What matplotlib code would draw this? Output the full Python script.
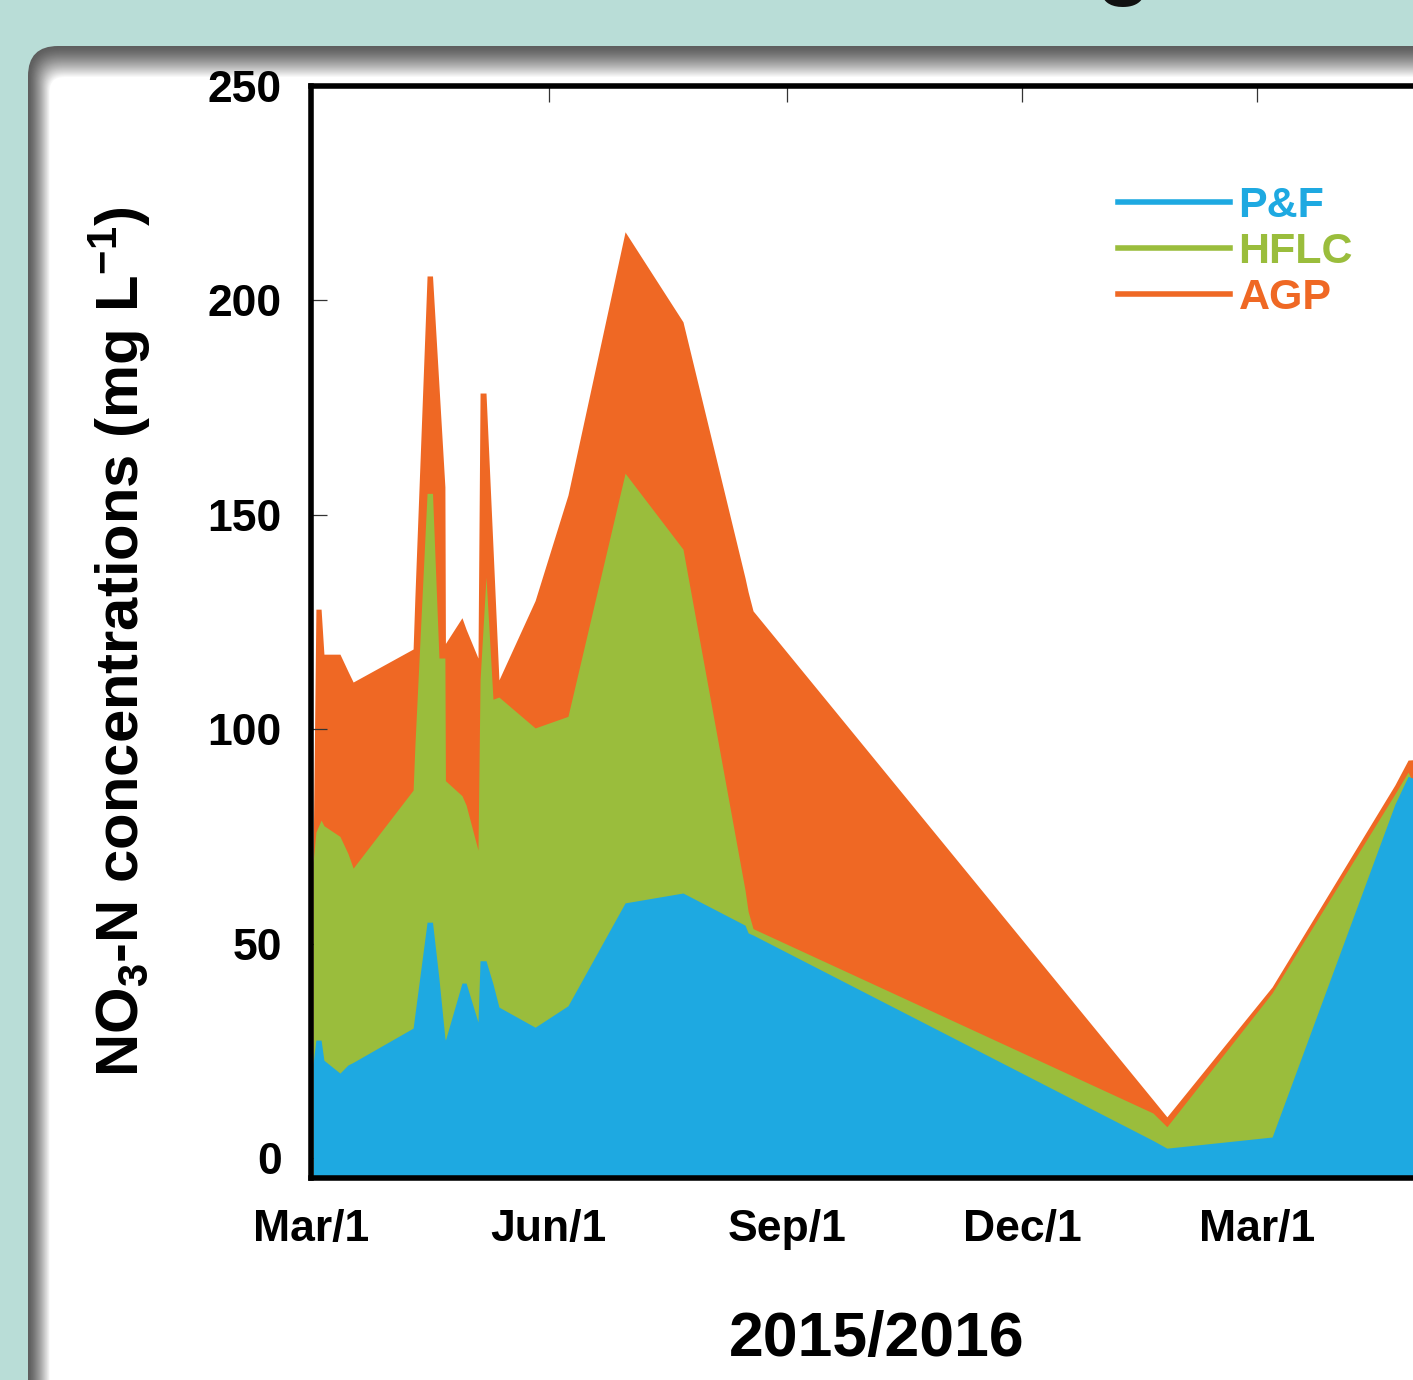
import numpy as np
import matplotlib.pyplot as plt
from matplotlib.patches import FancyBboxPatch
from matplotlib.lines import Line2D

plt.rcParams['font.family'] = 'Liberation Sans'
plt.rcParams['font.weight'] = 'bold'
plt.rcParams['mathtext.fontset'] = 'custom'
plt.rcParams['mathtext.rm'] = 'Liberation Sans:bold'
plt.rcParams['mathtext.it'] = 'Liberation Sans:bold'
plt.rcParams['mathtext.bf'] = 'Liberation Sans:bold'
plt.rcParams['mathtext.default'] = 'rm'

# days since 1 Mar 2015
days = [0.8, 1.9, 3.9, 5.0, 11.2, 14.3, 16.3, 39.5, 40.2, 44.9, 47.0, 49.5,
        51.8, 52.0, 58.4, 60.0, 64.6, 65.4, 67.7, 70.4, 72.7, 86.7, 99.4,
        121.5, 143.9, 167.9, 169.1, 171.0, 325.7, 331.1, 371.8, 419.3, 424.4, 429.0]

agp = [69, 128, 128, 117.5, 117.5, 113.5, 111, 118.7, 131, 205.7, 205.7, 180.1,
       156.5, 120, 126, 123.3, 116.6, 178.4, 178.4, 142.4, 111.5, 130, 154.6,
       216, 195, 135.3, 132, 127.6, 13.6, 9.6, 39.9, 87, 92.8, 93]
hflc = [69, 76, 78.8, 77.5, 75, 71, 67.6, 85.8, 96.3, 155, 155, 116.6,
        116.6, 88, 84.5, 82.3, 71.8, 111.5, 135.5, 107, 107.5, 100.3, 103,
        159.7, 142, 62.5, 57.5, 53.5, 10.5, 7.3, 38.5, 84.9, 90, 84]
pf = [22, 27.5, 27.5, 22.8, 19.8, 21.7, 22.3, 30.3, 33.5, 55, 55, 41.8,
      28, 27.5, 40.8, 40.8, 31.7, 46, 46, 40.6, 35.2, 30.5, 35.5,
      59.5, 61.8, 54.3, 52.5, 52, 4.1, 2.3, 4.9, 82.5, 89, 88]

tick_days = [0, 92, 184, 275, 366]
tick_labels = ['Mar/1', 'Jun/1', 'Sep/1', 'Dec/1', 'Mar/1']

c_pf = '#1ea9e1'
c_hflc = '#9abd3c'
c_agp = '#ef6824'

fig = plt.figure(figsize=(14.13, 13.8), dpi=100)
fig.patch.set_facecolor('#b9ddd7')

# poster panel with inner shadow
bg = fig.add_axes([0, 0, 1, 1])
bg.set_xlim(0, 1413)
bg.set_ylim(1380, 0)
bg.axis('off')
n = 32
for i in range(n):
    t = i / (n - 1)
    g = 0.37 + 0.63 * t ** 1.4
    bg.add_patch(FancyBboxPatch((28 + i * 0.7, 46 + i), 3000, 3000,
                                boxstyle='round,pad=0,rounding_size=%g' % max(30 - i * 0.5, 5),
                                fc=(g, g, g), ec='none'))
fig.text(1123 / 1413, 1 + 12 / 1380, 'g', ha='center', va='baseline',
         fontsize=66, fontweight='bold', color='#111111')

ax = fig.add_axes([311 / 1413, 202 / 1380, 1137.4 / 1413, 1092 / 1380])
ax.fill_between(days, agp, -10, color=c_agp, lw=0, zorder=1)
ax.fill_between(days, hflc, -10, color=c_hflc, lw=0, zorder=2)
ax.fill_between(days, pf, -10, color=c_pf, lw=0, zorder=3)

ax.set_xlim(0, 440)
ax.set_ylim(-4.66, 250)
ax.set_xticks(tick_days)
ax.set_xticklabels(tick_labels)
ax.set_yticks([0, 50, 100, 150, 200, 250])
for s in ax.spines.values():
    s.set_linewidth(4)
    s.set_zorder(5)
ax.tick_params(direction='in', length=11.5, width=0.9, color='#333333',
               top=True, right=True, labelsize=32, zorder=6)
ax.tick_params(axis='x', pad=22)
ax.tick_params(axis='y', pad=21)

ax.set_ylabel(r'NO$_3$-N concentrations (mg L$^{-1}$)', fontsize=43,
              fontweight='bold', va='center')
ax.yaxis.set_label_coords(-0.168, 0.491)
ax.set_xlabel('2015/2016', fontsize=45, fontweight='bold', va='center')
ax.xaxis.set_label_coords(0.4976, -0.1475)

handles = [Line2D([], [], color=c_pf, lw=4),
           Line2D([], [], color=c_hflc, lw=4),
           Line2D([], [], color=c_agp, lw=4)]
leg = ax.legend(handles, ['P&F', 'HFLC', 'AGP'], loc='upper left',
                bbox_to_anchor=(1118 / 1413, 1 - 186 / 1380),
                bbox_transform=fig.transFigure, frameon=False,
                prop={'size': 31, 'weight': 'bold'}, labelcolor='linecolor',
                handlelength=2.6, handletextpad=0.2, labelspacing=0.14,
                borderpad=0, borderaxespad=0)

plt.savefig('out.png', dpi=100, facecolor=fig.get_facecolor())
